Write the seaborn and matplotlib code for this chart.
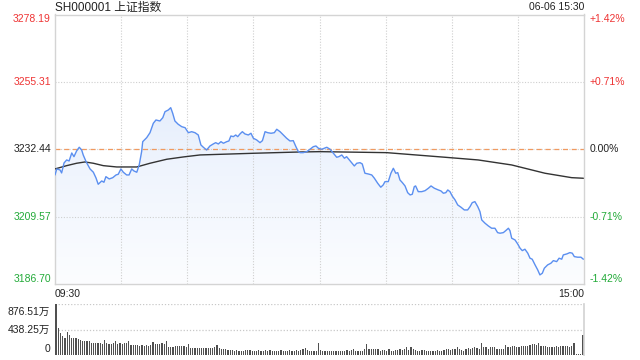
import numpy as np
import pandas as pd
import matplotlib
matplotlib.use("Agg")
import matplotlib.pyplot as plt
import matplotlib.transforms as mtrans
from matplotlib.colors import LinearSegmentedColormap
import seaborn as sns

sns.set_theme(style="white")
plt.rcParams['font.family'] = ['Liberation Sans', 'Noto Sans CJK SC']

# ---------------- data ----------------
title = 'SH000001 上证指数'
stamp = '06-06 15:30'
time_labels = ['09:30', '15:00']
prev_close = 3232.44
price_ticks = [3186.70, 3209.57, 3232.44, 3255.31, 3278.19]
price_labels = ['3186.70', '3209.57', '3232.44', '3255.31', '3278.19']
pct_labels = ['-1.42%', '-0.71%', '0.00%', '+0.71%', '+1.42%']
vol_ticks = [0, 438.25, 876.51]
vol_labels = ['0', '438.25万', '876.51万']
watermark = 'sina.com'

minutes = [0, 0.8, 2.3, 3.0, 4.1, 5.3, 6.4, 7.6, 8.6, 9.8, 11.0, 12.1, 12.8, 14.1, 15.9,
           17.4, 18.6, 19.6, 21.2, 22.2, 23.1, 24.6, 26.2, 27.7, 28.7, 29.9, 31.0, 32.5,
           33.6, 34.8, 35.8, 37.1, 38.2, 39.3, 39.8, 41.6, 43.1, 44.6, 45.8, 47.6, 48.9,
           49.9, 51.4, 52.5, 53.4, 54.4, 55.9, 57.5, 59.0, 60.5, 62.0, 63.5, 65.0, 66.2,
           67.3, 68.8, 70.3, 71.8, 72.9, 74.1, 75.3, 76.4, 77.9, 78.9, 79.8, 80.9, 82.0,
           82.9, 83.9, 85.0, 86.2, 87.7, 88.9, 90.0, 91.5, 93.0, 94.1, 95.3, 96.5, 98.0,
           99.5, 100.6, 102.1, 103.6, 105.1, 106.6, 108.1, 109.3, 110.4, 111.2, 112.6,
           114.2, 115.7, 117.2, 118.4, 119.5, 121.0, 123.3, 124.8, 126.3, 127.8, 128.8,
           130.1, 131.3, 132.3, 133.8, 134.6, 135.8, 136.9, 138.4, 139.4, 140.6, 142.1,
           143.7, 144.9, 146.4, 147.8, 148.9, 149.7, 151.2, 152.4, 153.5, 154.6, 155.5,
           156.5, 157.6, 158.8, 160.0, 161.1, 162.1, 163.0, 163.6, 164.8, 166.4, 167.9,
           169.4, 170.6, 172.1, 173.9, 175.1, 176.2, 177.3, 178.2, 179.2, 180.2, 181.5,
           182.7, 184.2, 185.7, 187.2, 188.3, 189.3, 190.5, 191.8, 192.8, 193.6, 195.1,
           196.6, 198.1, 199.6, 200.8, 201.9, 203.4, 204.5, 205.7, 206.4, 207.2, 208.7,
           209.9, 211.0, 212.0, 213.2, 214.5, 215.5, 216.5, 217.8, 219.0, 220.0, 221.1,
           222.0, 223.5, 225.0, 226.1, 227.6, 228.7, 229.9, 230.6, 232.2, 233.6, 234.7,
           235.6, 237.1, 238.6, 239.7]
prices = [3223.72, 3225.76, 3225.42, 3224.40, 3227.79, 3228.81, 3228.47, 3231.18, 3229.93,
          3231.86, 3233.12, 3232.20, 3230.51, 3228.23, 3225.76, 3224.64, 3222.70, 3220.56,
          3221.68, 3221.24, 3223.14, 3222.36, 3222.80, 3223.72, 3223.96, 3225.76, 3224.64,
          3223.72, 3223.72, 3225.76, 3225.08, 3224.64, 3227.11, 3231.63, 3235.02, 3236.38,
          3238.07, 3241.26, 3242.38, 3242.04, 3243.16, 3245.20, 3245.77, 3246.56, 3244.65,
          3242.04, 3240.92, 3240.11, 3239.77, 3238.07, 3238.41, 3238.07, 3237.29, 3233.90,
          3233.12, 3232.20, 3233.56, 3234.24, 3234.68, 3234.24, 3235.02, 3234.48, 3235.02,
          3235.26, 3236.95, 3236.72, 3237.29, 3236.72, 3237.63, 3238.41, 3237.63, 3237.29,
          3237.87, 3236.17, 3235.60, 3234.68, 3235.36, 3238.41, 3238.07, 3237.87, 3238.07,
          3239.23, 3238.41, 3237.29, 3236.17, 3235.26, 3235.36, 3233.32, 3231.63, 3231.29,
          3231.29, 3231.63, 3232.44, 3233.32, 3233.56, 3232.78, 3232.44, 3233.12, 3232.44,
          3231.08, 3229.73, 3229.93, 3230.51, 3229.39, 3229.93, 3228.57, 3227.89, 3226.77,
          3227.69, 3227.89, 3227.45, 3224.30, 3224.06, 3223.72, 3222.60, 3220.90, 3219.55,
          3220.33, 3221.45, 3221.45, 3224.30, 3225.99, 3224.30, 3224.50, 3222.02, 3221.11,
          3219.99, 3217.71, 3216.93, 3217.17, 3219.75, 3219.99, 3218.05, 3218.05, 3218.39,
          3219.21, 3219.99, 3219.21, 3218.63, 3218.29, 3217.51, 3217.71, 3218.63, 3218.05,
          3216.59, 3215.24, 3213.54, 3212.76, 3211.84, 3211.84, 3212.96, 3214.32, 3214.66,
          3212.96, 3211.27, 3208.45, 3207.33, 3206.41, 3205.63, 3205.63, 3204.14, 3203.94,
          3204.14, 3204.82, 3205.63, 3204.82, 3202.24, 3201.66, 3200.31, 3198.85, 3198.03,
          3198.51, 3197.15, 3195.46, 3195.12, 3193.18, 3191.49, 3189.79, 3190.37, 3192.06,
          3193.18, 3193.76, 3194.64, 3194.30, 3195.46, 3195.12, 3196.57, 3196.91, 3197.36,
          3197.15, 3196.00, 3195.80, 3195.80, 3195.12]

avg_minutes = [0, 5.3, 9.8, 13.6, 17.4, 21.9, 28.0, 37.1, 43.1, 50.7, 58.2, 65.8, 90.0,
               111.2, 120.2, 150.5, 176.9, 192.0, 207.2, 222.3, 234.4, 239.7]
avg_prices = [3225.76, 3226.88, 3227.69, 3228.13, 3227.69, 3226.88, 3226.43, 3226.43,
              3227.69, 3229.05, 3229.83, 3230.51, 3231.08, 3231.52, 3231.63, 3231.29,
              3229.73, 3228.81, 3227.11, 3224.30, 3222.80, 3222.60]

# volume per minute, in 万
volumes = [876, 473, 387, 329, 300, 404, 346, 300, 289, 289,
           271, 260, 242, 242, 242, 242, 202, 202, 213, 202,
           213, 190, 260, 213, 190, 190, 202, 242, 190, 202,
           190, 202, 213, 242, 173, 167, 167, 167, 156, 167,
           156, 167, 156, 173, 219, 190, 190, 190, 202, 190,
           242, 144, 144, 144, 156, 156, 156, 156, 156, 144,
           190, 115, 127, 127, 115, 115, 127, 127, 115, 115,
           127, 127, 144, 173, 115, 104, 104, 104, 87, 87,
           87, 75, 87, 75, 75, 75, 87, 87, 87, 75,
           75, 75, 80, 75, 75, 80, 75, 87, 75, 70,
           75, 70, 80, 75, 70, 75, 80, 70, 75, 80,
           75, 87, 104, 115, 87, 75, 70, 75, 70, 200,
           87, 70, 70, 65, 70, 70, 70, 70, 70, 75,
           75, 75, 80, 70, 80, 100, 75, 75, 75, 70,
           110, 190, 110, 110, 110, 110, 110, 75, 80, 80,
           75, 110, 75, 70, 80, 80, 110, 90, 110, 140,
           90, 140, 110, 90, 75, 75, 80, 80, 75, 75,
           70, 70, 75, 80, 75, 75, 90, 110, 110, 90,
           110, 110, 130, 100, 90, 75, 100, 120, 110, 115,
           130, 120, 105, 213, 140, 140, 110, 140, 130, 130,
           110, 100, 110, 110, 170, 140, 140, 150, 150, 140,
           140, 150, 150, 160, 160, 180, 190, 190, 180, 213,
           160, 160, 160, 140, 140, 140, 140, 150, 140, 150,
           150, 150, 150, 140, 150, 210, 20, 20, 20, 346]

# ---------------- figure ----------------
W, H = 640, 360
fig = plt.figure(figsize=(6.4, 3.6), dpi=100)
fig.patch.set_facecolor('white')
L, R = 55, 584
ax = fig.add_axes([L / W, 1 - 284 / H, (R - L) / W, (284 - 14.5) / H])
axv = fig.add_axes([L / W, 1 - 355 / H, (R - L) / W, (355 - 304.3) / H])

ymin, ymax = price_ticks[0], price_ticks[-1]
ax.set_xlim(0, 240)
ax.set_ylim(ymin, ymax)

# gradient fill under price line
poly = ax.fill_between(minutes, prices, ymin, color='none', lw=0)
cmap = LinearSegmentedColormap.from_list('fill', ['#fcfdff', '#edf3fd', '#d6e3f9'])
grad = ax.imshow(np.linspace(0, 1, 256).reshape(-1, 1), extent=[0, 240, ymin, ymax],
                 aspect='auto', cmap=cmap, origin='lower', zorder=1)
grad.set_clip_path(poly.get_paths()[0], transform=ax.transData)

# grid
grid_c = '#cfcfcf'
for m in range(30, 240, 30):
    ax.axvline(m, color=grid_c, ls=(0, (1, 1.5)), lw=0.8, zorder=2)
for v in (price_ticks[1], price_ticks[3]):
    ax.axhline(v, color=grid_c, ls=(0, (1, 1.5)), lw=0.8, zorder=2)
ax.axhline(prev_close, color=grid_c, ls=(0, (1, 1.5)), lw=0.8, zorder=2)
ax.axhline(prev_close, color='#f09a60', ls=(0, (4, 3)), lw=0.9, zorder=2)

df_price = pd.DataFrame({'minute': minutes, 'price': prices})
df_avg = pd.DataFrame({'minute': avg_minutes, 'price': avg_prices})
sns.lineplot(data=df_price, x='minute', y='price', ax=ax, color='#5b8ff0', lw=1.0,
             sort=False, estimator=None, zorder=4)
sns.lineplot(data=df_avg, x='minute', y='price', ax=ax, color='#333333', lw=1.0,
             sort=False, estimator=None, zorder=3)
ax.set_xlim(0, 240)
ax.set_ylim(ymin, ymax)
ax.set_xticks([]); ax.set_yticks([])
ax.set_xlabel(''); ax.set_ylabel('')
for s in ax.spines.values():
    s.set_visible(True); s.set_color('#d4d4d4'); s.set_linewidth(1.0)

# price labels
red, green, black = '#ee3333', '#22aa38', '#222222'
tl = mtrans.blended_transform_factory(ax.transAxes, ax.transData)
fs = 7.5
for i, (v, lab, pl) in enumerate(zip(price_ticks, price_labels, pct_labels)):
    c = green if v < prev_close else (red if v > prev_close else black)
    va = 'bottom' if i == 0 else ('top' if i == len(price_ticks) - 1 else 'center')
    ax.text(-4 / (R - L), v, lab, transform=tl, ha='right', va=va, color=c, fontsize=fs)
    ax.text(1 + 6 / (R - L), v, pl, transform=tl, ha='left', va=va, color=c, fontsize=fs)

ax.text(0, 1.0 + 7 / 269.5, title, transform=ax.transAxes, ha='left', va='center',
        fontsize=8.5, color='#222222')
ax.text(1, 1.0 + 7.5 / 269.5, stamp, transform=ax.transAxes, ha='right', va='center',
        fontsize=fs, color='#222222')
ax.text(0, -10 / 269.5, time_labels[0], transform=ax.transAxes, ha='left', va='center',
        fontsize=fs, color='#222222')
ax.text(1, -10 / 269.5, time_labels[1], transform=ax.transAxes, ha='right', va='center',
        fontsize=fs, color='#222222')
ax.text(552, 3186.70 + 5.5 * 0.3393, watermark, ha='center', va='center', fontsize=fs,
        color='#c4c4c4', zorder=5)

# volume
df_vol = pd.DataFrame({'minute': np.arange(len(volumes)) + 0.5, 'vol': volumes})
sns.barplot(data=df_vol, x='minute', y='vol', ax=axv, native_scale=True, color='#505050',
            saturation=1, width=0.55, linewidth=0, errorbar=None)
axv.set_xlim(0, 240)
axv.set_ylim(0, vol_ticks[-1])
axv.set_xticks([]); axv.set_yticks([])
axv.set_xlabel(''); axv.set_ylabel('')
for side in ('top', 'left', 'bottom'):
    axv.spines[side].set_visible(False)
axv.spines['right'].set_visible(True)
axv.spines['right'].set_color('#d4d4d4')
for v in vol_ticks[1:]:
    axv.axhline(v, color='#c8c8c8', ls=(0, (1, 1.5)), lw=0.9, zorder=0)
tv = mtrans.blended_transform_factory(axv.transAxes, axv.transData)
vol_offsets = [6.0, 0, -7.5]   # pixel shifts of the labels
for v, lab, off in zip(vol_ticks, vol_labels, vol_offsets):
    t = mtrans.offset_copy(tv, fig=fig, x=-5, y=off, units='dots')
    axv.text(0, v, lab, transform=t, ha='right', va='center', fontsize=fs,
             color='#222222')

fig.savefig('out.png', dpi=100)
